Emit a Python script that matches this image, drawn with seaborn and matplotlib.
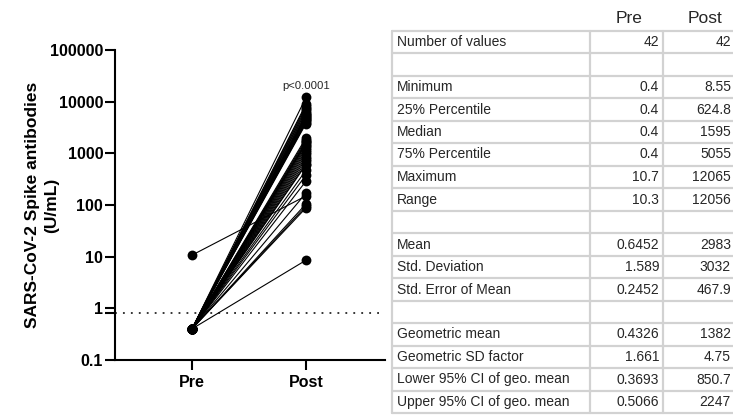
import matplotlib
matplotlib.use('Agg')
import matplotlib.pyplot as plt
import seaborn as sns
import pandas as pd
import numpy as np
from matplotlib.ticker import FixedLocator, NullFormatter

# paired values, one entry per subject (U/mL)
pre_values = [0.4, 0.4, 0.4, 0.4, 10.7, 0.4, 0.4, 0.4, 0.4, 0.4,
              0.4, 0.4, 0.4, 0.4, 0.4, 0.4, 0.4, 0.4, 0.4, 0.4,
              0.4, 0.4, 0.4, 0.4, 0.4, 0.4, 0.4, 0.4, 0.4, 0.4,
              0.4, 0.4, 0.4, 0.4, 0.4, 0.4, 0.4, 0.4, 0.4, 0.4,
              0.4, 0.4]
post_values = [8.55, 88, 95, 105, 150, 170, 290, 380, 470, 600,
               633, 700, 780, 860, 950, 1050, 1150, 1260, 1370, 1480,
               1560, 1630, 1720, 1850, 2000, 3770, 3950, 4150, 4350, 4600,
               4850, 5000, 5220, 5400, 5700, 6100, 6600, 7100, 7700, 8400,
               8980, 12065]

time_labels = ['Pre', 'Post']
y_ticks = [0.1, 1, 10, 100, 1000, 10000, 100000]
y_tick_labels = ['0.1', '1', '10', '100', '1000', '10000', '100000']
cutoff = 0.8
p_text = 'p<0.0001'

# descriptive statistics table
stat_names = ['Number of values', '', 'Minimum', '25% Percentile', 'Median',
              '75% Percentile', 'Maximum', 'Range', '', 'Mean', 'Std. Deviation',
              'Std. Error of Mean', '', 'Geometric mean', 'Geometric SD factor',
              'Lower 95% CI of geo. mean', 'Upper 95% CI of geo. mean']
pre_stats = ['42', '', '0.4', '0.4', '0.4', '0.4', '10.7', '10.3', '', '0.6452',
             '1.589', '0.2452', '', '0.4326', '1.661', '0.3693', '0.5066']
post_stats = ['42', '', '8.55', '624.8', '1595', '5055', '12065', '12056', '', '2983',
              '3032', '467.9', '', '1382', '4.75', '850.7', '2247']

n = len(pre_values)
df = pd.DataFrame({
    'subject': list(range(n)) * 2,
    'time': [time_labels[0]] * n + [time_labels[1]] * n,
    'value': pre_values + post_values,
})
df['x'] = df['time'].map({t: i for i, t in enumerate(time_labels)})

sns.set_theme(style='ticks')
plt.rcParams['font.family'] = ['Liberation Sans', 'DejaVu Sans']

W, H = 733, 417
fig = plt.figure(figsize=(W / 100, H / 100), dpi=100)

# table drawn in pixel coordinates
tab = fig.add_axes([0, 0, 1, 1])
tab.set_xlim(0, W)
tab.set_ylim(H, 0)
tab.axis('off')
tab.patch.set_visible(False)

grid_c = '#d2d2d2'
row_h = 22.5
first_y = 42
top = first_y - row_h / 2
bottom = top + row_h * len(stat_names)
for i in range(len(stat_names) + 1):
    yy = top + i * row_h
    tab.plot([392, 745], [yy, yy], color=grid_c, lw=1.6, clip_on=False)
for xx in [392, 590, 663, 745]:
    tab.plot([xx, xx], [top, bottom], color=grid_c, lw=1.6, clip_on=False)

tab.text(629, 18, 'Pre', ha='center', va='center', fontsize=12.5)
tab.text(705, 18, 'Post', ha='center', va='center', fontsize=12.5)
for i, (name, a, b) in enumerate(zip(stat_names, pre_stats, post_stats)):
    yy = first_y + i * row_h
    tab.text(397, yy, name, ha='left', va='center', fontsize=10)
    tab.text(659, yy, a, ha='right', va='center', fontsize=10)
    tab.text(731, yy, b, ha='right', va='center', fontsize=10)

# before-after plot
ax = fig.add_axes([115 / W, 1 - 360 / H, 270 / W, 310 / H])
ax.set_yscale('log')
sns.lineplot(data=df, x='x', y='value', units='subject', estimator=None,
             color='black', linewidth=0.8, ax=ax, legend=False)
sns.scatterplot(data=df, x='x', y='value', color='black', s=50, linewidth=0,
                ax=ax, zorder=3, clip_on=False, legend=False)
ax.axhline(cutoff, ls=(0, (1.2, 4)), lw=1.1, color='black')

ax.set_ylim(0.1, 100000)
ax.set_xlim(-0.675, 1.693)
ax.set_yticks(y_ticks)
ax.set_yticklabels(y_tick_labels, fontweight='bold', fontsize=11.5)
ax.yaxis.set_minor_locator(FixedLocator([cutoff]))
ax.yaxis.set_minor_formatter(NullFormatter())
ax.set_xticks([0, 1])
ax.set_xticklabels(time_labels, fontweight='bold', fontsize=11.5)
ax.tick_params(which='both', length=7, width=1.5, color='black', labelcolor='black')
ax.tick_params(axis='y', pad=1.5)
ax.tick_params(axis='x', pad=4)
sns.despine(ax=ax)
for s in ['left', 'bottom']:
    ax.spines[s].set_linewidth(1.5)
    ax.spines[s].set_color('black')
ax.set_xlabel('')
ax.set_ylabel('SARS-CoV-2 Spike antibodies\n(U/mL)', fontweight='bold',
              fontsize=12.5, color='black', linespacing=1.35)
ax.yaxis.set_label_coords(-0.208, 0.5)
ax.text(1, 20000, p_text, ha='center', va='center', fontsize=8.2)

plt.savefig('out.png', dpi=100)
